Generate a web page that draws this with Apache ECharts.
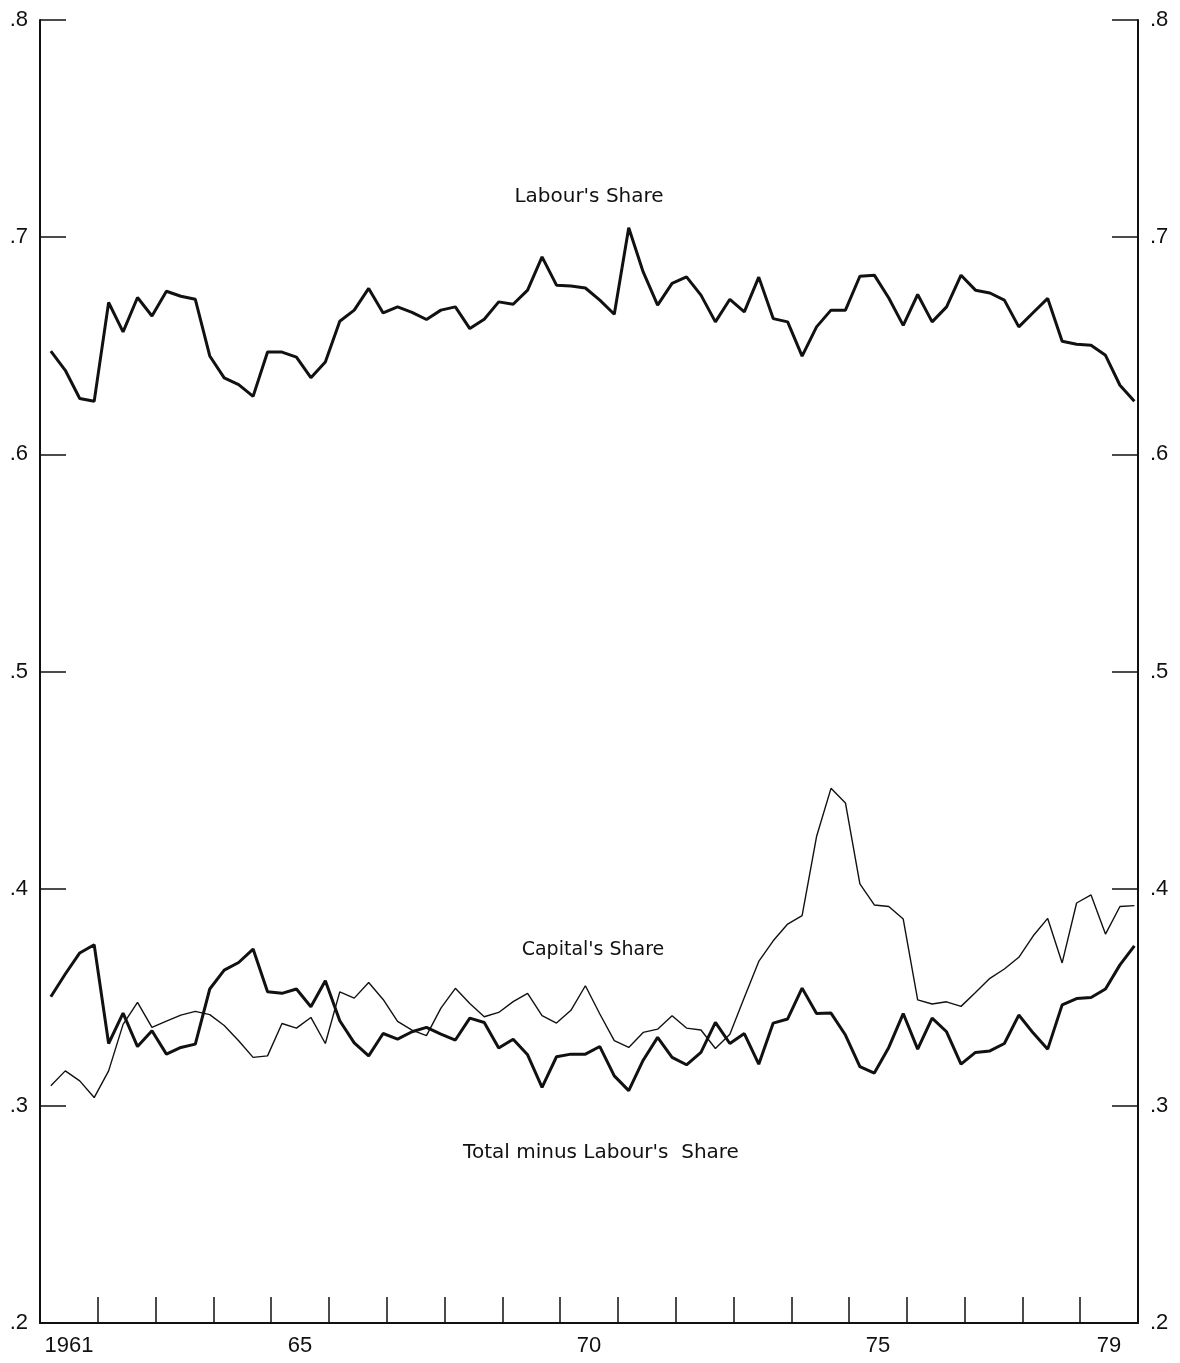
<!DOCTYPE html>
<html>
<head>
<meta charset="utf-8">
<title>Factor shares</title>
<script src="https://cdn.jsdelivr.net/npm/echarts@6/dist/echarts.min.js"></script>
<style>
  html, body { margin: 0; padding: 0; background: #fff; }
  #chart { width: 1180px; height: 1363px; }
</style>
</head>
<body>
<div id="chart"></div>
<script>
// Quarterly observations, 1961 Q1 – 1979 Q4
const firstYear = 1961;
const lastYear = 1980;

const labourShare = [
  0.6475, 0.6387, 0.6257, 0.6244, 0.6699, 0.6564, 0.6722, 0.6637,
  0.6751, 0.6728, 0.6714, 0.6453, 0.6352, 0.6321, 0.6267, 0.6471,
  0.6471, 0.6448, 0.6353, 0.6425, 0.6613, 0.6664, 0.6764, 0.6651,
  0.6679, 0.6654, 0.6621, 0.6664, 0.6679, 0.6579, 0.6622, 0.6702,
  0.6691, 0.6756, 0.6909, 0.6779, 0.6775, 0.6766, 0.6710, 0.6645,
  0.7043, 0.6840, 0.6687, 0.6787, 0.6817, 0.6733, 0.6610, 0.6714,
  0.6656, 0.6816, 0.6625, 0.6610, 0.6452, 0.6587, 0.6664, 0.6664,
  0.6820, 0.6825, 0.6720, 0.6594, 0.6736, 0.6610, 0.6679, 0.6825,
  0.6756, 0.6743, 0.6710, 0.6587, 0.6653, 0.6718, 0.6521, 0.6507,
  0.6502, 0.6456, 0.6318, 0.6244
];

const capitalShare = [
  0.3092, 0.3161, 0.3115, 0.3038, 0.3161, 0.3375, 0.3476, 0.3361,
  0.3390, 0.3418, 0.3435, 0.3420, 0.3370, 0.3300, 0.3223, 0.3230,
  0.3379, 0.3358, 0.3407, 0.3287, 0.3525, 0.3496, 0.3568, 0.3490,
  0.3389, 0.3349, 0.3323, 0.3450, 0.3541, 0.3471, 0.3410, 0.3430,
  0.3480, 0.3518, 0.3415, 0.3381, 0.3440, 0.3553, 0.3423, 0.3300,
  0.3269, 0.3338, 0.3353, 0.3415, 0.3358, 0.3349, 0.3264, 0.3330,
  0.3499, 0.3665, 0.3760, 0.3837, 0.3876, 0.4240, 0.4462, 0.4395,
  0.4022, 0.3925, 0.3918, 0.3860, 0.3488, 0.3469, 0.3479, 0.3458,
  0.3522, 0.3587, 0.3630, 0.3684, 0.3783, 0.3863, 0.3658, 0.3934,
  0.3971, 0.3791, 0.3918, 0.3922
];

const totalMinusLabour = [
  0.3502, 0.3607, 0.3704, 0.3742, 0.3287, 0.3427, 0.3273, 0.3346,
  0.3238, 0.3269, 0.3284, 0.3538, 0.3625, 0.3660, 0.3722, 0.3525,
  0.3518, 0.3538, 0.3456, 0.3576, 0.3392, 0.3290, 0.3230, 0.3333,
  0.3307, 0.3341, 0.3361, 0.3330, 0.3303, 0.3404, 0.3384, 0.3266,
  0.3307, 0.3235, 0.3085, 0.3226, 0.3238, 0.3238, 0.3273, 0.3138,
  0.3070, 0.3210, 0.3315, 0.3223, 0.3189, 0.3246, 0.3384, 0.3287,
  0.3333, 0.3192, 0.3381, 0.3400, 0.3542, 0.3425, 0.3427, 0.3326,
  0.3181, 0.3151, 0.3269, 0.3425, 0.3261, 0.3404, 0.3341, 0.3192,
  0.3246, 0.3253, 0.3287, 0.3418, 0.3335, 0.3261, 0.3465, 0.3494,
  0.3499, 0.3538, 0.3649, 0.3737
];

// Year labels sit in the middle of each year band
const labelYears = [1961, 1965, 1970, 1975, 1979];
const yearLabels = ['1961', '65', '70', '75', '79'];

const yTicks = [0.2, 0.3, 0.4, 0.5, 0.6, 0.7, 0.8];
const yTickLabels = ['.2', '.3', '.4', '.5', '.6', '.7', '.8'];

// quarter i plotted late in its quarter
const toPoints = arr => arr.map((v, i) => [firstYear + (i + 0.75) / 4, v]);

const ink = '#111';
const font = 'Liberation Sans, Arial, sans-serif';
const noteFont = '"DejaVu Sans", sans-serif';

const yearTickValues = [];
for (let y = firstYear + 1; y < lastYear; y++) yearTickValues.push(y);

const yAxisCommon = {
  type: 'value',
  min: 0.2,
  max: 0.8,
  interval: 0.1,
  splitLine: { show: false },
  axisLine: { show: true, lineStyle: { color: ink, width: 2 } },
  axisTick: { show: true, inside: true, length: 26, lineStyle: { color: ink, width: 1.5 } },
  axisLabel: {
    margin: 12,
    color: ink,
    fontFamily: font,
    fontSize: 22,
    formatter: v => {
      const k = yTicks.findIndex(t => Math.abs(t - v) < 1e-6);
      return k >= 0 ? yTickLabels[k] : '';
    }
  }
};

function note(text, x, y, size) {
  return {
    type: 'text', x: x, y: y,
    style: {
      text: text, font: size + 'px ' + noteFont, fill: ink,
      textAlign: 'center', textVerticalAlign: 'middle',
      align: 'center', verticalAlign: 'middle'
    }
  };
}

const chart = echarts.init(document.getElementById('chart'), null, { renderer: 'canvas' });

chart.setOption({
  animation: false,
  backgroundColor: '#fff',
  grid: { left: 40, right: 42, top: 20, bottom: 40 },
  xAxis: {
    type: 'value',
    min: firstYear,
    max: lastYear,
    splitLine: { show: false },
    axisLine: { show: true, lineStyle: { color: ink, width: 2 } },
    axisTick: {
      show: true,
      inside: true,
      length: 26,
      customValues: yearTickValues,
      lineStyle: { color: ink, width: 1.5 }
    },
    axisLabel: {
      margin: 12,
      color: ink,
      fontFamily: font,
      fontSize: 22,
      customValues: labelYears.map(y => y + 0.5),
      formatter: v => {
        const k = labelYears.indexOf(Math.floor(v));
        return k >= 0 ? yearLabels[k] : '';
      }
    }
  },
  yAxis: [
    Object.assign({ position: 'left' }, yAxisCommon),
    Object.assign({ position: 'right' }, yAxisCommon)
  ],
  series: [
    {
      name: "Labour's Share",
      type: 'line',
      data: toPoints(labourShare),
      symbol: 'none',
      lineStyle: { color: ink, width: 3 }
    },
    {
      name: "Total minus Labour's Share",
      type: 'line',
      data: toPoints(totalMinusLabour),
      symbol: 'none',
      lineStyle: { color: ink, width: 3 }
    },
    {
      name: "Capital's Share",
      type: 'line',
      data: toPoints(capitalShare),
      symbol: 'none',
      lineStyle: { color: ink, width: 1.4 }
    }
  ],
  graphic: [
    note("Labour's Share", 589, 197, 20),
    note("Capital's Share", 593, 950, 19),
    note("Total minus Labour's  Share", 601, 1153, 20)
  ]
});
</script>
</body>
</html>
